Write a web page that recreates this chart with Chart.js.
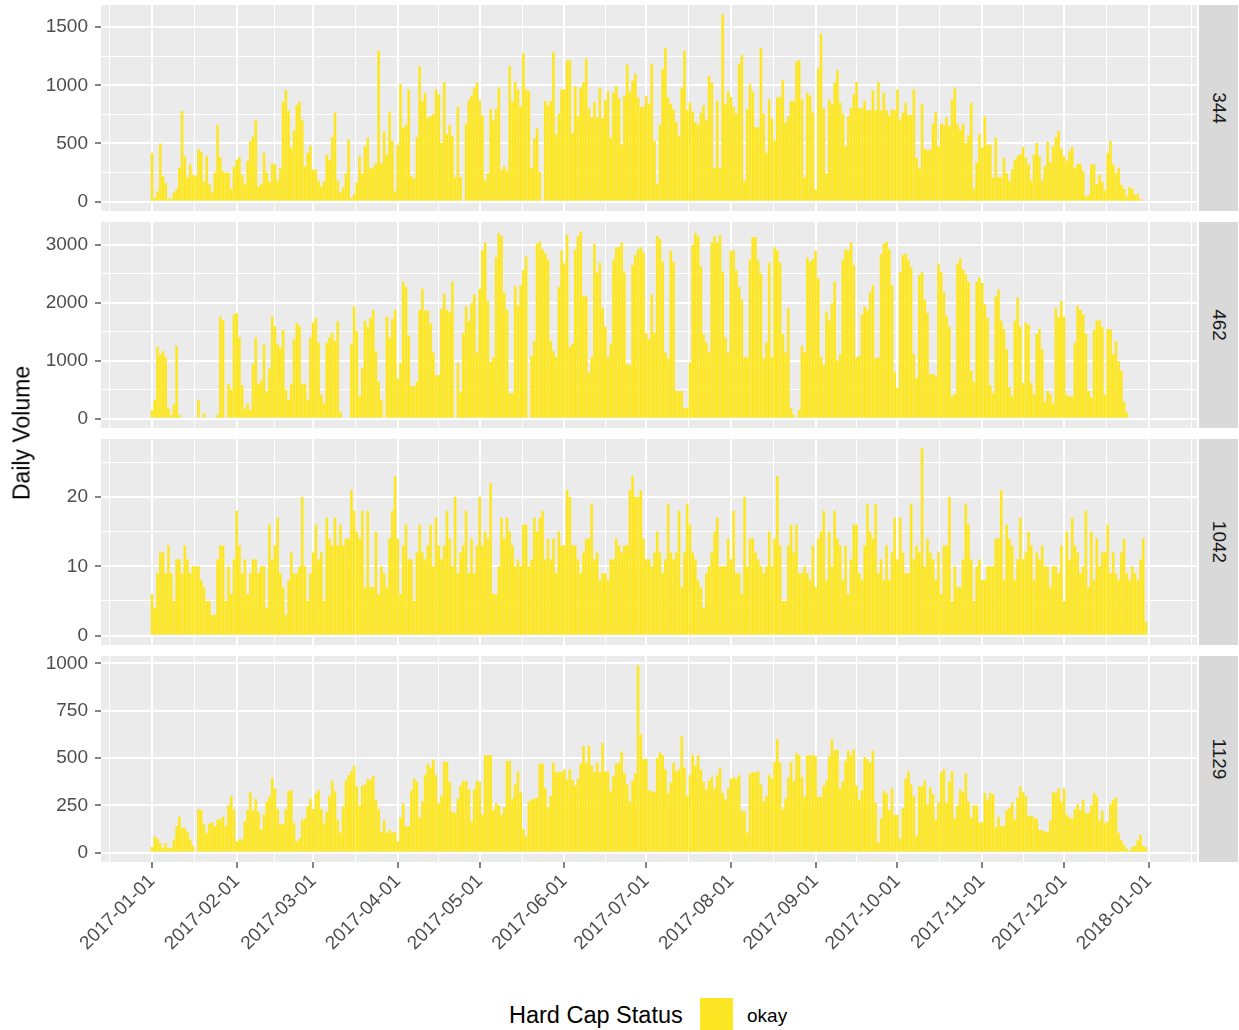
<!DOCTYPE html>
<html>
<head>
<meta charset="utf-8">
<title>Daily Volume</title>
<script src="https://cdn.jsdelivr.net/npm/chart.js@4.4.1/dist/chart.umd.min.js"></script>
<style>
    body {
        margin: 0;
        background: #ffffff;
        width: 1239px;
        height: 1030px;
        position: relative;
        overflow: hidden;
        font-family: 'Liberation Sans', Arial, sans-serif;
    }
    canvas.panel {
        position: absolute;
        left: 0;
    }
    .strip {
        position: absolute;
        left: 1199px;
        width: 39px;
        background: #d9d9d9;
    }
    .strip span {
        position: absolute;
        left: 50%;
        top: 50%;
        transform: translate(-50%, -50%) rotate(90deg);
        font-size: 19px;
        color: #1a1a1a;
        white-space: nowrap;
    }
    #ytitle {
        position: absolute;
        left: 22px;
        top: 433px;
        transform: translate(-50%, -50%) rotate(-90deg);
        font-size: 23px;
        color: #000;
        white-space: nowrap;
    }
    #legendTitle {
        position: absolute;
        left: 509px;
        top: 1002px;
        font-size: 23.5px;
        color: #000;
    }
    #legendKey {
        position: absolute;
        left: 700px;
        top: 998px;
        width: 33px;
        height: 33px;
        background: #fde725;
    }
    #legendText {
        position: absolute;
        left: 747px;
        top: 1005px;
        font-size: 19px;
        color: #000;
    }
</style>
</head>
<body>
<canvas class="panel" id="p0"></canvas>
<canvas class="panel" id="p1"></canvas>
<canvas class="panel" id="p2"></canvas>
<canvas class="panel" id="p3"></canvas>
<div class="strip" id="s0"><span>344</span></div>
<div class="strip" id="s1"><span>462</span></div>
<div class="strip" id="s2"><span>1042</span></div>
<div class="strip" id="s3"><span>1129</span></div>
<div id="ytitle">Daily Volume</div>
<div id="legendTitle">Hard Cap Status</div>
<div id="legendKey"></div>
<div id="legendText">okay</div>

<script>
'use strict';

// Jours 2017-01-01 .. 2017-12-31 (index du jour dans l'année)
const days = [];
for (let i = 0; i < 365; i++) days.push(i);

// Graduations de l'axe des dates
const tickDays = [0, 31, 59, 90, 120, 151, 181, 212, 243, 273, 304, 334, 365];
const tickLabels = [
    '2017-01-01', '2017-02-01', '2017-03-01', '2017-04-01', '2017-05-01', '2017-06-01', '2017-07-01',
    '2017-08-01', '2017-09-01', '2017-10-01', '2017-11-01', '2017-12-01', '2018-01-01',
];

// Panneaux (facettes)
const panelNames = ['344', '462', '1042', '1129'];

const vol344 = [
    420, 30, 90, 500, 220, 160, 25, 25, 80, 110,
    290, 780, 390, 210, 320, 230, 220, 450, 430, 170,
    390, 150, 80, 250, 660, 380, 260, 250, 250, 110,
    300, 360, 380, 230, 150, 350, 520, 560, 700, 130,
    150, 420, 250, 170, 330, 320, 180, 290, 860, 960,
    780, 460, 610, 830, 860, 700, 300, 420, 480, 275,
    275, 180, 130, 175, 405, 360, 555, 765, 180, 80,
    125, 240, 535, 30, 65, 165, 390, 240, 480, 550,
    285, 295, 330, 1300, 330, 605, 405, 775, 520, 90,
    490, 1010, 635, 660, 965, 220, 200, 555, 1165, 865,
    935, 720, 735, 750, 965, 920, 505, 1025, 580, 660,
    565, 210, 815, 210, 0, 670, 870, 910, 980, 1025,
    870, 740, 180, 240, 795, 700, 795, 980, 275, 305,
    265, 1165, 860, 1030, 965, 815, 1275, 965, 950, 290,
    545, 630, 255, 0, 865, 830, 865, 1285, 580, 755,
    965, 965, 1215, 1215, 590, 995, 735, 980, 1025, 1230,
    800, 725, 855, 725, 980, 715, 870, 950, 550, 935,
    995, 890, 490, 910, 1180, 945, 1040, 1100, 895, 815,
    815, 910, 840, 1185, 520, 150, 660, 1140, 1320, 895,
    840, 795, 685, 565, 980, 1300, 785, 855, 775, 685,
    660, 765, 830, 700, 1080, 1025, 290, 865, 290, 1610,
    840, 950, 900, 815, 755, 1185, 1260, 180, 795, 1010,
    945, 640, 640, 1320, 755, 420, 880, 715, 525, 895,
    900, 1045, 680, 735, 865, 865, 1205, 1215, 880, 210,
    935, 910, 765, 105, 1145,
    1445, 800, 240, 880, 840, 1025, 1130, 850, 755, 475,
    735, 805, 920, 1030, 800, 805, 865, 785, 785, 955,
    785, 1030, 785, 935, 785, 745, 795, 785, 965, 705,
    765, 850, 745, 745, 965, 375, 285, 840, 450, 440,
    450, 670, 770, 475, 670, 660, 725, 650, 880, 980,
    670, 620, 670, 505, 570, 850, 110, 335, 580, 465,
    735, 490, 490, 205, 550, 210, 210, 375, 245, 180,
    275, 360, 390, 410, 470, 380, 320, 180, 405, 505,
    390, 180, 305, 515, 335, 475, 555, 610, 455, 390,
    350, 435, 470, 290, 325, 325, 260, 45, 55, 320,
    320, 150, 230, 170, 95, 420, 520, 320, 245, 290,
    145, 110, 45, 125, 110, 60, 65, 20, 10, 10,
];

const vol462 = [
    150, 325, 1235, 1110, 1165, 1060, 180, 65, 240, 1255,
    65, 0, 0, 0, 0, 0, 0, 325, 0, 95,
    0, 0, 0, 0, 65, 1760, 1700, 0, 600, 500,
    1795, 1820, 1400, 575, 170, 265, 150, 945, 1400, 600,
    655, 1285, 470, 865, 1760, 1585, 1285, 1225, 1525, 500,
    325, 600, 1370, 1645, 1600, 600, 600, 325, 1400, 1660,
    1735, 1310, 410, 265, 1310, 1400, 1485, 1340, 1680, 120,
    0, 0, 0, 1285, 1935, 1505, 385, 875, 1690, 1585,
    1735, 1875, 1165, 635, 325, 0, 1760, 1400, 1720, 1875,
    690, 965, 2360, 2270, 1430, 560, 560, 635, 1875, 2240,
    1865, 1865, 1645, 1140, 750, 750, 1895, 2155, 1875, 1835,
    2360, 0, 965, 460, 1470, 1935, 1680, 1990, 2145, 1140,
    2240, 2900, 3040, 2025, 980, 1060, 2780, 3200, 3150, 2165,
    1875, 440, 440, 2280, 1950, 2300, 2560, 2800, 0, 1080,
    1340, 3015, 3055, 2920, 2850, 2745, 1340, 1165, 1060, 2270,
    2900, 2675, 3170, 1235, 1295, 2920, 3150, 3230, 2110, 2110,
    790, 1060, 3015, 2515, 2690, 1910, 1585, 1060, 1285, 2745,
    2955, 2955, 3040, 2515, 945, 925, 2650, 2820, 2920, 2955,
    2860, 1470, 1370, 2145, 1485, 3150, 3095, 2705, 1140, 1040,
    2900, 2705, 480, 470, 480, 180, 180, 965, 3000, 3200,
    3150, 2630, 1460, 1310, 1140, 3040, 3150, 3040, 3170, 2530,
    1400, 1140, 2900, 2900, 2560, 2270, 2050, 1060, 1060, 2745,
    3130, 3130, 2725, 2500, 1040, 1310, 2690, 1060, 2955, 2900,
    2690, 1460, 1140, 1910, 180, 65, 0, 150, 1255, 1140,
    2780, 2705, 2745, 2900, 2420,
    1060, 925, 1850, 1690, 1990, 2360, 1005, 1110, 2745, 2920,
    2900, 3040, 2650, 1060, 1080, 1795, 1935, 1875, 2185, 2300,
    1040, 1060, 2840, 3015, 3055, 2920, 2300, 805, 530, 2530,
    2820, 2850, 2745, 2610, 1110, 700, 2475, 2530, 2050, 1820,
    770, 770, 730, 2675, 2530, 2185, 1760, 1585, 385, 425,
    2675, 2765, 2570, 2500, 2360, 830, 635, 2360, 2435, 2340,
    1970, 1735, 575, 440, 2110, 2225, 1690, 1545, 1195, 540,
    385, 1690, 2085, 1585, 615, 1660, 1620, 615, 425, 1460,
    1545, 1195, 295, 480, 425, 265, 1910, 1750, 2025, 1760,
    410, 385, 385, 1310, 1950, 1875, 1795, 1460, 480, 365,
    1525, 1690, 1700, 1585, 410, 1545, 1545, 1110, 1340, 990,
    830, 295, 110, 0, 0, 0, 0, 0, 0, 0,
];

const vol1042 = [
    6, 4, 9, 12, 12, 9, 13, 9, 5, 11,
    11, 9, 13, 11, 9, 10, 10, 10, 8, 7,
    5, 5, 3, 3, 11, 13, 13, 5, 10, 6,
    11, 18, 13, 9, 11, 6, 9, 11, 11, 9,
    10, 10, 4, 16, 11, 13, 17, 9, 7, 3,
    8, 12, 9, 9, 10, 20, 10, 5, 9, 12,
    16, 11, 12, 5, 17, 14, 13, 17, 13, 16,
    13, 14, 14, 21, 18, 15, 14, 18, 7, 18,
    7, 7, 15, 6, 10, 9, 7, 14, 18, 23,
    14, 6, 13, 16, 11, 11, 5, 12, 16, 12,
    11, 13, 16, 10, 17, 13, 11, 13, 18, 14,
    10, 20, 9, 12, 13, 18, 9, 14, 9, 13,
    20, 13, 15, 14, 22, 6, 6, 10, 17, 14,
    17, 15, 13, 10, 11, 10, 16, 16, 10, 11,
    17, 15, 17, 18, 11, 14, 11, 14, 9, 15,
    13, 13, 21, 20, 13, 13, 11, 9, 12, 14,
    14, 19, 11, 12, 8, 9, 9, 8, 11, 11,
    14, 13, 12, 13, 13, 21, 23, 20, 20, 21,
    14, 11, 11, 10, 12, 15, 12, 9, 11, 19,
    12, 11, 12, 18, 7, 12, 19, 16, 12, 11,
    8, 7, 4, 9, 10, 12, 15, 17, 10, 10,
    10, 14, 11, 18, 9, 9, 6, 20, 10, 14,
    14, 12, 11, 10, 9, 10, 15, 10, 14, 23,
    13, 5, 5, 13, 16, 12, 16, 9, 9, 10,
    9, 8, 13, 7, 14,
    15, 18, 8, 15, 10, 18, 14, 13, 8, 13,
    6, 11, 16, 16, 9, 8, 13, 19, 15, 14,
    19, 9, 11, 8, 13, 8, 12, 17, 11, 17,
    12, 9, 9, 19, 11, 13, 12, 27, 10, 14,
    12, 11, 8, 12, 6, 13, 13, 20, 5, 10,
    7, 7, 11, 19, 16, 11, 5, 10, 11, 8,
    8, 10, 10, 10, 14, 14, 21, 8, 16, 14,
    13, 8, 11, 17, 11, 12, 15, 13, 8, 12,
    11, 13, 10, 10, 7, 10, 10, 9, 13, 5,
    15, 11, 17, 13, 12, 9, 10, 18, 7, 15,
    8, 14, 10, 12, 12, 16, 9, 12, 9, 8,
    12, 14, 9, 8, 10, 9, 8, 11, 14, 2,
];

const vol1129 = [
    30, 85, 75, 50, 25, 50, 25, 25, 70, 140,
    190, 130, 130, 110, 70, 35, 0, 230, 225, 150,
    105, 155, 160, 140, 175, 175, 190, 140, 250, 300,
    230, 60, 70, 70, 165, 225, 320, 225, 285, 215,
    120, 200, 270, 295, 395, 340, 230, 150, 150, 230,
    325, 330, 155, 60, 75, 175, 180, 245, 285, 230,
    315, 330, 230, 155, 215, 300, 380, 325, 175, 105,
    245, 380, 410, 430, 460, 350, 250, 355, 360, 390,
    385, 405, 280, 230, 110, 170, 105, 120, 105, 110,
    60, 185, 260, 140, 140, 330, 390, 375, 185, 270,
    410, 470, 450, 490, 410, 260, 300, 480, 480, 375,
    215, 210, 285, 355, 380, 380, 335, 165, 335, 380,
    375, 200, 515, 515, 515, 225, 260, 250, 200, 240,
    485, 485, 285, 360, 430, 320, 125, 85, 270, 280,
    285, 290, 470, 470, 340, 240, 300, 475, 425, 425,
    425, 440, 385, 440, 385, 355, 390, 470, 565, 475,
    565, 460, 425, 475, 425, 580, 430, 430, 325, 405,
    470, 475, 535, 420, 360, 270, 380, 420, 990, 625,
    495, 495, 330, 325, 320, 500, 530, 515, 440, 315,
    370, 475, 430, 440, 615, 450, 300, 410, 515, 460,
    515, 440, 375, 335, 380, 400, 340, 410, 450, 315,
    280, 340, 390, 400, 390, 410, 220, 220, 105, 420,
    425, 425, 430, 360, 270, 300, 410, 390, 480, 600,
    475, 230, 285, 395, 480, 380, 525, 515, 400, 295,
    515, 515, 515, 510, 295,
    295, 355, 380, 510, 600, 540, 545, 340, 375, 485,
    540, 515, 545, 355, 280, 330, 505, 495, 475, 540,
    265, 55, 180, 325, 315, 225, 340, 200, 200, 75,
    235, 390, 430, 360, 300, 90, 350, 350, 380, 255,
    345, 310, 175, 265, 425, 440, 265, 375, 430, 180,
    250, 335, 320, 420, 270, 185, 250, 250, 160, 160,
    315, 280, 315, 310, 135, 190, 140, 140, 225, 235,
    265, 175, 290, 350, 320, 300, 195, 195, 185, 180,
    120, 120, 110, 110, 170, 320, 315, 340, 270, 340,
    200, 185, 180, 230, 255, 225, 280, 210, 210, 250,
    315, 295, 170, 220, 155, 165, 255, 280, 290, 105,
    65, 40, 20, 10, 30, 35, 65, 95, 35, 30,
];

const panelValues = [vol344, vol462, vol1042, vol1129];

// Graduations principales de l'axe Y par panneau
const yTicks344 = [0, 500, 1000, 1500];
const yTicks462 = [0, 1000, 2000, 3000];
const yTicks1042 = [0, 10, 20];
const yTicks1129 = [0, 250, 500, 750, 1000];
const panelYTicks = [yTicks344, yTicks462, yTicks1042, yTicks1129];

// Mise en page (pixels)
const panelTops = [5, 222, 439, 656];
const panelHeight = 206;
const axisLeftWidth = 101;
const plotRight = 1197;
const dateAxisHeight = 110;
const barColor = '#fde725';
const fontFamily = "'Liberation Sans', Arial, sans-serif";

// Étendue X avec l'expansion de 5 % façon ggplot
const xMin = -0.45 - 0.05 * 364.9;
const xMax = 364.45 + 0.05 * 364.9;

// Graduations X : principales + secondaires (milieux)
function buildXTicks() {
    const list = [];
    const ext = [tickDays[0] - (tickDays[1] - tickDays[0])].concat(tickDays, [tickDays[tickDays.length - 1] + 31]);
    for (let i = 0; i < ext.length - 1; i++) {
        const mid = (ext[i] + ext[i + 1]) / 2;
        if (mid > xMin && mid < xMax) list.push({ value: mid, minor: true });
    }
    tickDays.forEach((d) => list.push({ value: d, minor: false }));
    return list.sort((a, b) => a.value - b.value);
}
const xTickList = buildXTicks();

// Graduations Y : principales + secondaires
function buildYTicks(majors, min, max) {
    const step = majors[1] - majors[0];
    const ext = [majors[0] - step].concat(majors, [majors[majors.length - 1] + step]);
    const list = [];
    for (let i = 0; i < ext.length - 1; i++) {
        const mid = (ext[i] + ext[i + 1]) / 2;
        if (mid > min && mid < max) list.push({ value: mid, minor: true });
    }
    majors.forEach((v) => list.push({ value: v, minor: false }));
    return list.sort((a, b) => a.value - b.value);
}

// Fond gris du panneau
const panelBackground = {
    id: 'panelBackground',
    beforeDraw: function (chart) {
        const a = chart.chartArea;
        const ctx = chart.ctx;
        ctx.save();
        ctx.fillStyle = '#ebebeb';
        ctx.fillRect(a.left, a.top, a.right - a.left, a.bottom - a.top);
        ctx.restore();
    },
};

function makePanel(index) {
    const values = panelValues[index];
    const majors = panelYTicks[index];
    const showDates = index === panelValues.length - 1;
    const maxVal = Math.max.apply(null, values);
    const yMin = -0.05 * maxVal;
    const yMax = 1.05 * maxVal;

    const canvas = document.getElementById('p' + index);
    canvas.width = plotRight;
    canvas.height = panelHeight + (showDates ? dateAxisHeight : 0);
    canvas.style.top = panelTops[index] + 'px';

    const strip = document.getElementById('s' + index);
    strip.style.top = panelTops[index] + 'px';
    strip.style.height = panelHeight + 'px';

    return new Chart(canvas, {
        type: 'bar',
        data: {
            datasets: [
                {
                    label: panelNames[index],
                    data: days.map((d, i) => ({ x: d, y: values[i] })),
                    backgroundColor: barColor,
                    borderWidth: 0,
                    barPercentage: 0.96,
                    categoryPercentage: 1.0,
                },
            ],
        },
        options: {
            responsive: false,
            animation: false,
            devicePixelRatio: 1,
            layout: { padding: 0 },
            plugins: {
                legend: { display: false },
                tooltip: { enabled: false },
            },
            scales: {
                x: {
                    type: 'linear',
                    min: xMin,
                    max: xMax,
                    offset: false,
                    afterBuildTicks: function (scale) {
                        scale.ticks = xTickList.map((t) => ({ value: t.value, minor: t.minor }));
                    },
                    afterFit: function (scale) {
                        scale.height = showDates ? dateAxisHeight : 0;
                        scale.paddingLeft = 0;
                        scale.paddingRight = 0;
                    },
                    grid: {
                        offset: false,
                        color: '#ffffff',
                        lineWidth: (c) => (c.tick && c.tick.minor ? 1 : 2),
                        drawTicks: showDates,
                        tickLength: 6,
                        tickWidth: 1.2,
                        tickColor: (c) => (c.tick && c.tick.minor ? 'rgba(0,0,0,0)' : '#333333'),
                    },
                    border: { display: false },
                    ticks: {
                        display: showDates,
                        autoSkip: false,
                        minRotation: 45,
                        maxRotation: 45,
                        padding: 2,
                        color: '#4d4d4d',
                        font: { family: fontFamily, size: 19 },
                        callback: function (value, i, ticks) {
                            if (ticks[i].minor) return '';
                            const k = tickDays.indexOf(value);
                            return k >= 0 ? tickLabels[k] : '';
                        },
                    },
                },
                y: {
                    min: yMin,
                    max: yMax,
                    afterBuildTicks: function (scale) {
                        scale.ticks = buildYTicks(majors, yMin, yMax);
                    },
                    afterFit: function (scale) {
                        scale.width = axisLeftWidth;
                        scale.paddingTop = 0;
                        scale.paddingBottom = 0;
                    },
                    grid: {
                        offset: false,
                        color: '#ffffff',
                        lineWidth: (c) => (c.tick && c.tick.minor ? 1 : 2),
                        drawTicks: true,
                        tickLength: 6,
                        tickWidth: 1.2,
                        tickColor: (c) => (c.tick && c.tick.minor ? 'rgba(0,0,0,0)' : '#333333'),
                    },
                    border: { display: false },
                    ticks: {
                        padding: 7,
                        color: '#4d4d4d',
                        font: { family: fontFamily, size: 19 },
                        callback: function (value, i, ticks) {
                            return ticks[i].minor ? '' : String(value);
                        },
                    },
                },
            },
        },
        plugins: [panelBackground],
    });
}

panelValues.forEach((v, i) => {
    if (v.length !== days.length) console.warn('panel ' + panelNames[i] + ': ' + v.length + ' values');
    makePanel(i);
});
</script>
</body>
</html>
